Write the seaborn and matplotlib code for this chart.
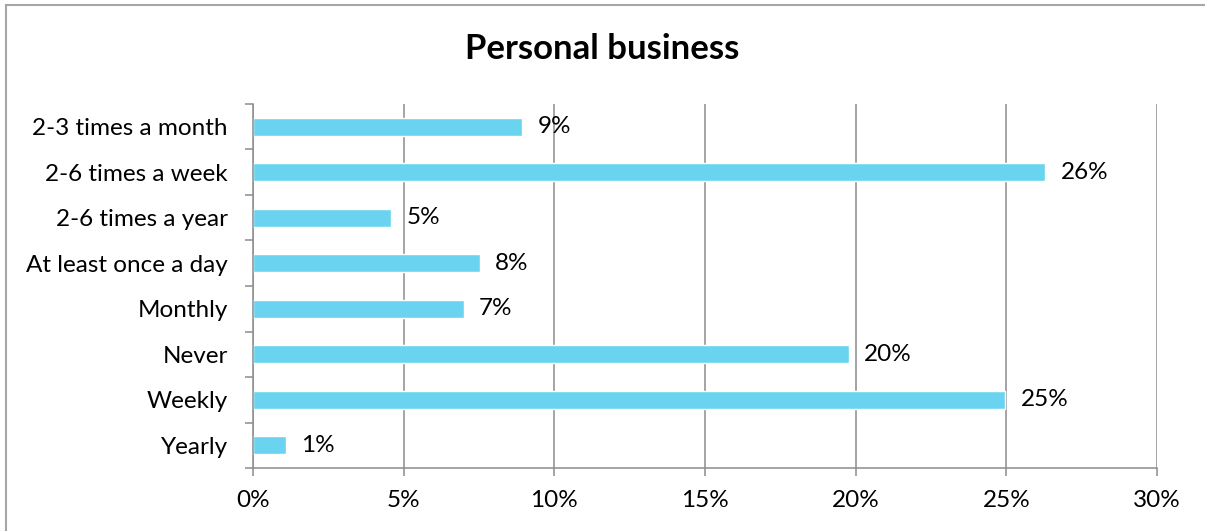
import matplotlib
matplotlib.use("Agg")
import matplotlib.pyplot as plt
from matplotlib.patches import Rectangle
from matplotlib.ticker import FixedLocator, PercentFormatter
import seaborn as sns
import pandas as pd

# Share of respondents by frequency of personal-business trips (percent)
categories = [
    "2-3 times a month",
    "2-6 times a week",
    "2-6 times a year",
    "At least once a day",
    "Monthly",
    "Never",
    "Weekly",
    "Yearly",
]
shares = [8.93, 26.29, 4.58, 7.53, 7.0, 19.78, 24.96, 1.1]
x_ticks = [0, 5, 10, 15, 20, 25, 30]

df = pd.DataFrame({"frequency": categories, "share": shares})

sns.set_theme(style="white")
plt.rcParams["font.family"] = ["Lato", "DejaVu Sans"]

fig = plt.figure(figsize=(12.05, 5.31), dpi=100)
ax = fig.add_axes([253 / 1205, 1 - 468 / 531, (1157 - 253) / 1205, (468 - 104) / 531])

sns.barplot(data=df, x="share", y="frequency", color="#6AD4F0",
            width=0.4, ax=ax, saturation=1, orient="h")

ax.set_xlim(0, 30)
ax.set_ylim(len(categories) - 0.5, -0.5)
ax.xaxis.set_major_locator(FixedLocator(x_ticks))
ax.xaxis.set_major_formatter(PercentFormatter(decimals=0))
ax.grid(axis="x", color="#8c8c8c", linewidth=1.1)
ax.set_axisbelow(True)

# Category ticks sit on the boundaries between bars
ax.set_yticks([i - 0.5 for i in range(len(categories) + 1)], minor=True)
ax.tick_params(axis="y", which="major", length=0, labelsize=17.5, pad=18, labelcolor="black")
ax.tick_params(axis="y", which="minor", length=6, width=1.1, color="#8c8c8c", left=True)
ax.tick_params(axis="x", length=6, width=1.1, color="#8c8c8c", bottom=True,
               labelsize=17.5, pad=10, labelcolor="black")

for side in ("top", "right"):
    ax.spines[side].set_visible(False)
for side in ("left", "bottom"):
    ax.spines[side].set_color("#8c8c8c")
    ax.spines[side].set_linewidth(1.1)

ax.set_xlabel("")
ax.set_ylabel("")

for i, v in enumerate(shares):
    ax.annotate(f"{v:.0f}%", xy=(v, i), xytext=(11, 0), textcoords="offset points",
                va="center", ha="left", fontsize=17.5, color="black")

fig.text(0.5, 1 - 49 / 531, "Personal business", ha="center", va="center",
         fontsize=25, fontweight="bold", color="black")

# Outer chart frame
fig.patches.append(Rectangle((6 / 1205, -0.2), 1.2, 1.2 - 5 / 531,
                             transform=fig.transFigure, fill=False,
                             edgecolor="#a6a6a6", linewidth=1.5))

fig.savefig("out.png", dpi=100)
